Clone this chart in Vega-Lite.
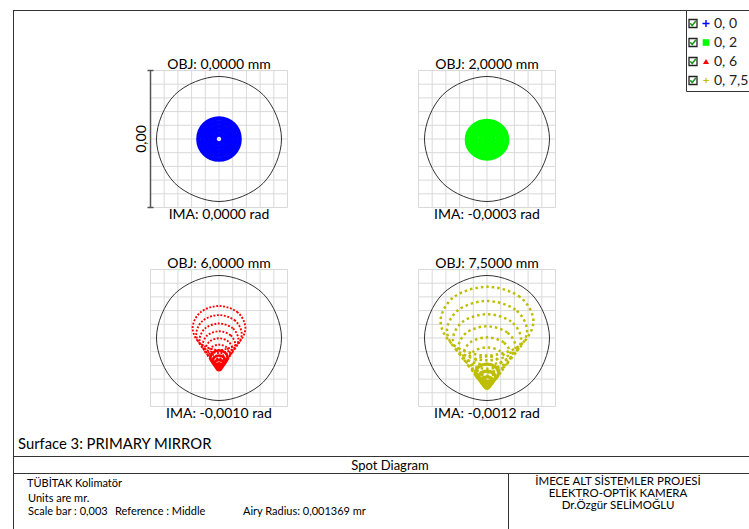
{
"$schema":"https://vega.github.io/schema/vega-lite/v6.json",
"width":749,"height":529,"padding":0,"autosize":{"type":"none"},
"background":"white",
"config":{"view":{"stroke":null}},
"resolve":{"scale":{"x":"independent","y":"independent"}},
"datasets":{
"grid":[{"v":-0.0015},{"v":-0.0012},{"v":-0.0009},{"v":-0.0006},{"v":-0.0003},{"v":0},{"v":0.0003},{"v":0.0006},{"v":0.0009},{"v":0.0012},{"v":0.0015}],
"airy":[{"i":0,"x":0.001369,"y":0},{"i":1,"x":0.000968,"y":0.000968},{"i":2,"x":0,"y":0.001369},{"i":3,"x":-0.000968,"y":0.000968},{"i":4,"x":-0.001369,"y":0},{"i":5,"x":-0.000968,"y":-0.000968},{"i":6,"x":0,"y":-0.001369},{"i":7,"x":0.000968,"y":-0.000968}],
"panels":[{"f":"0, 0","obj":"OBJ: 0,0000 mm","ima":"IMA: 0,0000 rad"},{"f":"0, 2","obj":"OBJ: 2,0000 mm","ima":"IMA: -0,0003 rad"},{"f":"0, 6","obj":"OBJ: 6,0000 mm","ima":"IMA: -0,0010 rad"},{"f":"0, 7,5","obj":"OBJ: 7,5000 mm","ima":"IMA: -0,0012 rad"}],
"spots":[
{"f":"0, 0","r":1,"i":0,"x":0.000099,"y":0},{"f":"0, 0","r":1,"i":1,"x":0.00007,"y":0.00007},{"f":"0, 0","r":1,"i":2,"x":0,"y":0.000099},{"f":"0, 0","r":1,"i":3,"x":-0.00007,"y":0.00007},{"f":"0, 0","r":1,"i":4,"x":-0.000099,"y":0},{"f":"0, 0","r":1,"i":5,"x":-0.00007,"y":-0.00007},{"f":"0, 0","r":1,"i":6,"x":0,"y":-0.000099},{"f":"0, 0","r":1,"i":7,"x":0.00007,"y":-0.00007},
{"f":"0, 0","r":2,"i":0,"x":0.000186,"y":0},{"f":"0, 0","r":2,"i":1,"x":0.000132,"y":0.000132},{"f":"0, 0","r":2,"i":2,"x":0,"y":0.000186},{"f":"0, 0","r":2,"i":3,"x":-0.000132,"y":0.000132},{"f":"0, 0","r":2,"i":4,"x":-0.000186,"y":0},{"f":"0, 0","r":2,"i":5,"x":-0.000132,"y":-0.000132},{"f":"0, 0","r":2,"i":6,"x":0,"y":-0.000186},{"f":"0, 0","r":2,"i":7,"x":0.000132,"y":-0.000132},
{"f":"0, 0","r":3,"i":0,"x":0.000274,"y":0},{"f":"0, 0","r":3,"i":1,"x":0.000194,"y":0.000194},{"f":"0, 0","r":3,"i":2,"x":0,"y":0.000274},{"f":"0, 0","r":3,"i":3,"x":-0.000194,"y":0.000194},{"f":"0, 0","r":3,"i":4,"x":-0.000274,"y":0},{"f":"0, 0","r":3,"i":5,"x":-0.000194,"y":-0.000194},{"f":"0, 0","r":3,"i":6,"x":0,"y":-0.000274},{"f":"0, 0","r":3,"i":7,"x":0.000194,"y":-0.000194},
{"f":"0, 0","r":4,"i":0,"x":0.000361,"y":0},{"f":"0, 0","r":4,"i":1,"x":0.000256,"y":0.000256},{"f":"0, 0","r":4,"i":2,"x":0,"y":0.000361},{"f":"0, 0","r":4,"i":3,"x":-0.000256,"y":0.000256},{"f":"0, 0","r":4,"i":4,"x":-0.000361,"y":0},{"f":"0, 0","r":4,"i":5,"x":-0.000256,"y":-0.000256},{"f":"0, 0","r":4,"i":6,"x":0,"y":-0.000361},{"f":"0, 0","r":4,"i":7,"x":0.000256,"y":-0.000256},
{"f":"0, 0","r":5,"i":0,"x":0.000449,"y":0},{"f":"0, 0","r":5,"i":1,"x":0.000318,"y":0.000318},{"f":"0, 0","r":5,"i":2,"x":0,"y":0.000449},{"f":"0, 0","r":5,"i":3,"x":-0.000318,"y":0.000318},{"f":"0, 0","r":5,"i":4,"x":-0.000449,"y":0},{"f":"0, 0","r":5,"i":5,"x":-0.000318,"y":-0.000318},{"f":"0, 0","r":5,"i":6,"x":0,"y":-0.000449},{"f":"0, 0","r":5,"i":7,"x":0.000318,"y":-0.000318},
{"f":"0, 2","r":1,"i":0,"x":0.000436,"y":-0.000015},{"f":"0, 2","r":1,"i":1,"x":0.000308,"y":0.000273},{"f":"0, 2","r":1,"i":2,"x":0,"y":0.000392},{"f":"0, 2","r":1,"i":3,"x":-0.000308,"y":0.000273},{"f":"0, 2","r":1,"i":4,"x":-0.000436,"y":-0.000015},{"f":"0, 2","r":1,"i":5,"x":-0.000308,"y":-0.000303},{"f":"0, 2","r":1,"i":6,"x":0,"y":-0.000422},{"f":"0, 2","r":1,"i":7,"x":0.000308,"y":-0.000303},
{"f":"0, 2","r":2,"i":0,"x":0.000339,"y":-0.000015},{"f":"0, 2","r":2,"i":1,"x":0.00024,"y":0.00021},{"f":"0, 2","r":2,"i":2,"x":0,"y":0.000303},{"f":"0, 2","r":2,"i":3,"x":-0.00024,"y":0.00021},{"f":"0, 2","r":2,"i":4,"x":-0.000339,"y":-0.000015},{"f":"0, 2","r":2,"i":5,"x":-0.00024,"y":-0.00024},{"f":"0, 2","r":2,"i":6,"x":0,"y":-0.000333},{"f":"0, 2","r":2,"i":7,"x":0.00024,"y":-0.00024},
{"f":"0, 2","r":3,"i":0,"x":0.000243,"y":-0.000015},{"f":"0, 2","r":3,"i":1,"x":0.000172,"y":0.000146},{"f":"0, 2","r":3,"i":2,"x":0,"y":0.000213},{"f":"0, 2","r":3,"i":3,"x":-0.000172,"y":0.000146},{"f":"0, 2","r":3,"i":4,"x":-0.000243,"y":-0.000015},{"f":"0, 2","r":3,"i":5,"x":-0.000172,"y":-0.000176},{"f":"0, 2","r":3,"i":6,"x":0,"y":-0.000243},{"f":"0, 2","r":3,"i":7,"x":0.000172,"y":-0.000176},
{"f":"0, 2","r":4,"i":0,"x":0.000147,"y":-0.000015},{"f":"0, 2","r":4,"i":1,"x":0.000104,"y":0.000083},{"f":"0, 2","r":4,"i":2,"x":0,"y":0.000123},{"f":"0, 2","r":4,"i":3,"x":-0.000104,"y":0.000083},{"f":"0, 2","r":4,"i":4,"x":-0.000147,"y":-0.000015},{"f":"0, 2","r":4,"i":5,"x":-0.000104,"y":-0.000113},{"f":"0, 2","r":4,"i":6,"x":0,"y":-0.000153},{"f":"0, 2","r":4,"i":7,"x":0.000104,"y":-0.000113},
{"f":"0, 2","r":5,"i":0,"x":0.00005,"y":-0.000015},{"f":"0, 2","r":5,"i":1,"x":0.000036,"y":0.000019},{"f":"0, 2","r":5,"i":2,"x":0,"y":0.000033},{"f":"0, 2","r":5,"i":3,"x":-0.000036,"y":0.000019},{"f":"0, 2","r":5,"i":4,"x":-0.00005,"y":-0.000015},{"f":"0, 2","r":5,"i":5,"x":-0.000036,"y":-0.000049},{"f":"0, 2","r":5,"i":6,"x":0,"y":-0.000063},{"f":"0, 2","r":5,"i":7,"x":0.000036,"y":-0.000049},
{"f":"0, 6","r":14,"i":0,"x":0.000578,"y":0.000219},{"f":"0, 6","r":14,"i":1,"x":0.000409,"y":0.00056},{"f":"0, 6","r":14,"i":2,"x":0,"y":0.000701},{"f":"0, 6","r":14,"i":3,"x":-0.000409,"y":0.00056},{"f":"0, 6","r":14,"i":4,"x":-0.000578,"y":0.000219},{"f":"0, 6","r":14,"i":5,"x":-0.000409,"y":-0.000122},{"f":"0, 6","r":14,"i":6,"x":0,"y":-0.000263},{"f":"0, 6","r":14,"i":7,"x":0.000409,"y":-0.000122},
{"f":"0, 6","r":13,"i":0,"x":0.000498,"y":0.000086},{"f":"0, 6","r":13,"i":1,"x":0.000353,"y":0.00038},{"f":"0, 6","r":13,"i":2,"x":0,"y":0.000502},{"f":"0, 6","r":13,"i":3,"x":-0.000353,"y":0.00038},{"f":"0, 6","r":13,"i":4,"x":-0.000498,"y":0.000086},{"f":"0, 6","r":13,"i":5,"x":-0.000353,"y":-0.000207},{"f":"0, 6","r":13,"i":6,"x":0,"y":-0.000329},{"f":"0, 6","r":13,"i":7,"x":0.000353,"y":-0.000207},
{"f":"0, 6","r":12,"i":0,"x":0.000425,"y":-0.000037},{"f":"0, 6","r":12,"i":1,"x":0.0003,"y":0.000214},{"f":"0, 6","r":12,"i":2,"x":0,"y":0.000317},{"f":"0, 6","r":12,"i":3,"x":-0.0003,"y":0.000214},{"f":"0, 6","r":12,"i":4,"x":-0.000425,"y":-0.000037},{"f":"0, 6","r":12,"i":5,"x":-0.0003,"y":-0.000287},{"f":"0, 6","r":12,"i":6,"x":0,"y":-0.000391},{"f":"0, 6","r":12,"i":7,"x":0.0003,"y":-0.000287},
{"f":"0, 6","r":11,"i":0,"x":0.000357,"y":-0.00015},{"f":"0, 6","r":11,"i":1,"x":0.000252,"y":0.00006},{"f":"0, 6","r":11,"i":2,"x":0,"y":0.000148},{"f":"0, 6","r":11,"i":3,"x":-0.000252,"y":0.00006},{"f":"0, 6","r":11,"i":4,"x":-0.000357,"y":-0.00015},{"f":"0, 6","r":11,"i":5,"x":-0.000252,"y":-0.00036},{"f":"0, 6","r":11,"i":6,"x":0,"y":-0.000447},{"f":"0, 6","r":11,"i":7,"x":0.000252,"y":-0.00036},
{"f":"0, 6","r":10,"i":0,"x":0.000295,"y":-0.000253},{"f":"0, 6","r":10,"i":1,"x":0.000208,"y":-0.000079},{"f":"0, 6","r":10,"i":2,"x":0,"y":-0.000007},{"f":"0, 6","r":10,"i":3,"x":-0.000208,"y":-0.000079},{"f":"0, 6","r":10,"i":4,"x":-0.000295,"y":-0.000253},{"f":"0, 6","r":10,"i":5,"x":-0.000208,"y":-0.000427},{"f":"0, 6","r":10,"i":6,"x":0,"y":-0.000499},{"f":"0, 6","r":10,"i":7,"x":0.000208,"y":-0.000427},
{"f":"0, 6","r":9,"i":0,"x":0.000239,"y":-0.000346},{"f":"0, 6","r":9,"i":1,"x":0.000169,"y":-0.000206},{"f":"0, 6","r":9,"i":2,"x":0,"y":-0.000147},{"f":"0, 6","r":9,"i":3,"x":-0.000169,"y":-0.000206},{"f":"0, 6","r":9,"i":4,"x":-0.000239,"y":-0.000346},{"f":"0, 6","r":9,"i":5,"x":-0.000169,"y":-0.000487},{"f":"0, 6","r":9,"i":6,"x":0,"y":-0.000546},{"f":"0, 6","r":9,"i":7,"x":0.000169,"y":-0.000487},
{"f":"0, 6","r":8,"i":0,"x":0.000189,"y":-0.00043},{"f":"0, 6","r":8,"i":1,"x":0.000133,"y":-0.000319},{"f":"0, 6","r":8,"i":2,"x":0,"y":-0.000273},{"f":"0, 6","r":8,"i":3,"x":-0.000133,"y":-0.000319},{"f":"0, 6","r":8,"i":4,"x":-0.000189,"y":-0.00043},{"f":"0, 6","r":8,"i":5,"x":-0.000133,"y":-0.000541},{"f":"0, 6","r":8,"i":6,"x":0,"y":-0.000587},{"f":"0, 6","r":8,"i":7,"x":0.000133,"y":-0.000541},
{"f":"0, 6","r":7,"i":0,"x":0.000145,"y":-0.000504},{"f":"0, 6","r":7,"i":1,"x":0.000102,"y":-0.000419},{"f":"0, 6","r":7,"i":2,"x":0,"y":-0.000383},{"f":"0, 6","r":7,"i":3,"x":-0.000102,"y":-0.000419},{"f":"0, 6","r":7,"i":4,"x":-0.000145,"y":-0.000504},{"f":"0, 6","r":7,"i":5,"x":-0.000102,"y":-0.000589},{"f":"0, 6","r":7,"i":6,"x":0,"y":-0.000624},{"f":"0, 6","r":7,"i":7,"x":0.000102,"y":-0.000589},
{"f":"0, 6","r":6,"i":0,"x":0.000106,"y":-0.000568},{"f":"0, 6","r":6,"i":1,"x":0.000075,"y":-0.000505},{"f":"0, 6","r":6,"i":2,"x":0,"y":-0.000479},{"f":"0, 6","r":6,"i":3,"x":-0.000075,"y":-0.000505},{"f":"0, 6","r":6,"i":4,"x":-0.000106,"y":-0.000568},{"f":"0, 6","r":6,"i":5,"x":-0.000075,"y":-0.00063},{"f":"0, 6","r":6,"i":6,"x":0,"y":-0.000656},{"f":"0, 6","r":6,"i":7,"x":0.000075,"y":-0.00063},
{"f":"0, 6","r":5,"i":0,"x":0.000074,"y":-0.000622},{"f":"0, 6","r":5,"i":1,"x":0.000052,"y":-0.000578},{"f":"0, 6","r":5,"i":2,"x":0,"y":-0.00056},{"f":"0, 6","r":5,"i":3,"x":-0.000052,"y":-0.000578},{"f":"0, 6","r":5,"i":4,"x":-0.000074,"y":-0.000622},{"f":"0, 6","r":5,"i":5,"x":-0.000052,"y":-0.000665},{"f":"0, 6","r":5,"i":6,"x":0,"y":-0.000683},{"f":"0, 6","r":5,"i":7,"x":0.000052,"y":-0.000665},
{"f":"0, 6","r":4,"i":0,"x":0.000047,"y":-0.000666},{"f":"0, 6","r":4,"i":1,"x":0.000034,"y":-0.000638},{"f":"0, 6","r":4,"i":2,"x":0,"y":-0.000626},{"f":"0, 6","r":4,"i":3,"x":-0.000034,"y":-0.000638},{"f":"0, 6","r":4,"i":4,"x":-0.000047,"y":-0.000666},{"f":"0, 6","r":4,"i":5,"x":-0.000034,"y":-0.000694},{"f":"0, 6","r":4,"i":6,"x":0,"y":-0.000705},{"f":"0, 6","r":4,"i":7,"x":0.000034,"y":-0.000694},
{"f":"0, 7,5","r":14,"i":0,"x":0.001017,"y":0.000368},{"f":"0, 7,5","r":14,"i":1,"x":0.000719,"y":0.000901},{"f":"0, 7,5","r":14,"i":2,"x":0,"y":0.001121},{"f":"0, 7,5","r":14,"i":3,"x":-0.000719,"y":0.000901},{"f":"0, 7,5","r":14,"i":4,"x":-0.001017,"y":0.000368},{"f":"0, 7,5","r":14,"i":5,"x":-0.000719,"y":-0.000165},{"f":"0, 7,5","r":14,"i":6,"x":0,"y":-0.000385},{"f":"0, 7,5","r":14,"i":7,"x":0.000719,"y":-0.000165},
{"f":"0, 7,5","r":13,"i":0,"x":0.000877,"y":0.00016},{"f":"0, 7,5","r":13,"i":1,"x":0.00062,"y":0.00062},{"f":"0, 7,5","r":13,"i":2,"x":0,"y":0.00081},{"f":"0, 7,5","r":13,"i":3,"x":-0.00062,"y":0.00062},{"f":"0, 7,5","r":13,"i":4,"x":-0.000877,"y":0.00016},{"f":"0, 7,5","r":13,"i":5,"x":-0.00062,"y":-0.000299},{"f":"0, 7,5","r":13,"i":6,"x":0,"y":-0.000489},{"f":"0, 7,5","r":13,"i":7,"x":0.00062,"y":-0.000299},
{"f":"0, 7,5","r":12,"i":0,"x":0.000747,"y":-0.000032},{"f":"0, 7,5","r":12,"i":1,"x":0.000528,"y":0.000359},{"f":"0, 7,5","r":12,"i":2,"x":0,"y":0.000521},{"f":"0, 7,5","r":12,"i":3,"x":-0.000528,"y":0.000359},{"f":"0, 7,5","r":12,"i":4,"x":-0.000747,"y":-0.000032},{"f":"0, 7,5","r":12,"i":5,"x":-0.000528,"y":-0.000423},{"f":"0, 7,5","r":12,"i":6,"x":0,"y":-0.000585},{"f":"0, 7,5","r":12,"i":7,"x":0.000528,"y":-0.000423},
{"f":"0, 7,5","r":11,"i":0,"x":0.000628,"y":-0.000208},{"f":"0, 7,5","r":11,"i":1,"x":0.000444,"y":0.00012},{"f":"0, 7,5","r":11,"i":2,"x":0,"y":0.000257},{"f":"0, 7,5","r":11,"i":3,"x":-0.000444,"y":0.00012},{"f":"0, 7,5","r":11,"i":4,"x":-0.000628,"y":-0.000208},{"f":"0, 7,5","r":11,"i":5,"x":-0.000444,"y":-0.000537},{"f":"0, 7,5","r":11,"i":6,"x":0,"y":-0.000674},{"f":"0, 7,5","r":11,"i":7,"x":0.000444,"y":-0.000537},
{"f":"0, 7,5","r":10,"i":0,"x":0.000519,"y":-0.00037},{"f":"0, 7,5","r":10,"i":1,"x":0.000367,"y":-0.000098},{"f":"0, 7,5","r":10,"i":2,"x":0,"y":0.000014},{"f":"0, 7,5","r":10,"i":3,"x":-0.000367,"y":-0.000098},{"f":"0, 7,5","r":10,"i":4,"x":-0.000519,"y":-0.00037},{"f":"0, 7,5","r":10,"i":5,"x":-0.000367,"y":-0.000642},{"f":"0, 7,5","r":10,"i":6,"x":0,"y":-0.000754},{"f":"0, 7,5","r":10,"i":7,"x":0.000367,"y":-0.000642},
{"f":"0, 7,5","r":9,"i":0,"x":0.00042,"y":-0.000516},{"f":"0, 7,5","r":9,"i":1,"x":0.000297,"y":-0.000296},{"f":"0, 7,5","r":9,"i":2,"x":0,"y":-0.000205},{"f":"0, 7,5","r":9,"i":3,"x":-0.000297,"y":-0.000296},{"f":"0, 7,5","r":9,"i":4,"x":-0.00042,"y":-0.000516},{"f":"0, 7,5","r":9,"i":5,"x":-0.000297,"y":-0.000736},{"f":"0, 7,5","r":9,"i":6,"x":0,"y":-0.000827},{"f":"0, 7,5","r":9,"i":7,"x":0.000297,"y":-0.000736},
{"f":"0, 7,5","r":8,"i":0,"x":0.000332,"y":-0.000647},{"f":"0, 7,5","r":8,"i":1,"x":0.000235,"y":-0.000473},{"f":"0, 7,5","r":8,"i":2,"x":0,"y":-0.000401},{"f":"0, 7,5","r":8,"i":3,"x":-0.000235,"y":-0.000473},{"f":"0, 7,5","r":8,"i":4,"x":-0.000332,"y":-0.000647},{"f":"0, 7,5","r":8,"i":5,"x":-0.000235,"y":-0.000821},{"f":"0, 7,5","r":8,"i":6,"x":0,"y":-0.000893},{"f":"0, 7,5","r":8,"i":7,"x":0.000235,"y":-0.000821},
{"f":"0, 7,5","r":7,"i":0,"x":0.000254,"y":-0.000762},{"f":"0, 7,5","r":7,"i":1,"x":0.00018,"y":-0.000629},{"f":"0, 7,5","r":7,"i":2,"x":0,"y":-0.000574},{"f":"0, 7,5","r":7,"i":3,"x":-0.00018,"y":-0.000629},{"f":"0, 7,5","r":7,"i":4,"x":-0.000254,"y":-0.000762},{"f":"0, 7,5","r":7,"i":5,"x":-0.00018,"y":-0.000895},{"f":"0, 7,5","r":7,"i":6,"x":0,"y":-0.00095},{"f":"0, 7,5","r":7,"i":7,"x":0.00018,"y":-0.000895},
{"f":"0, 7,5","r":6,"i":0,"x":0.000187,"y":-0.000862},{"f":"0, 7,5","r":6,"i":1,"x":0.000132,"y":-0.000764},{"f":"0, 7,5","r":6,"i":2,"x":0,"y":-0.000724},{"f":"0, 7,5","r":6,"i":3,"x":-0.000132,"y":-0.000764},{"f":"0, 7,5","r":6,"i":4,"x":-0.000187,"y":-0.000862},{"f":"0, 7,5","r":6,"i":5,"x":-0.000132,"y":-0.00096},{"f":"0, 7,5","r":6,"i":6,"x":0,"y":-0.001},{"f":"0, 7,5","r":6,"i":7,"x":0.000132,"y":-0.00096},
{"f":"0, 7,5","r":5,"i":0,"x":0.00013,"y":-0.000947},{"f":"0, 7,5","r":5,"i":1,"x":0.000092,"y":-0.000879},{"f":"0, 7,5","r":5,"i":2,"x":0,"y":-0.00085},{"f":"0, 7,5","r":5,"i":3,"x":-0.000092,"y":-0.000879},{"f":"0, 7,5","r":5,"i":4,"x":-0.00013,"y":-0.000947},{"f":"0, 7,5","r":5,"i":5,"x":-0.000092,"y":-0.001014},{"f":"0, 7,5","r":5,"i":6,"x":0,"y":-0.001043},{"f":"0, 7,5","r":5,"i":7,"x":0.000092,"y":-0.001014},
{"f":"0, 7,5","r":4,"i":0,"x":0.000083,"y":-0.001016},{"f":"0, 7,5","r":4,"i":1,"x":0.000059,"y":-0.000972},{"f":"0, 7,5","r":4,"i":2,"x":0,"y":-0.000954},{"f":"0, 7,5","r":4,"i":3,"x":-0.000059,"y":-0.000972},{"f":"0, 7,5","r":4,"i":4,"x":-0.000083,"y":-0.001016},{"f":"0, 7,5","r":4,"i":5,"x":-0.000059,"y":-0.001059},{"f":"0, 7,5","r":4,"i":6,"x":0,"y":-0.001077},{"f":"0, 7,5","r":4,"i":7,"x":0.000059,"y":-0.001059},
{"f":"0, 7,5","r":3,"i":0,"x":0.000047,"y":-0.00107},{"f":"0, 7,5","r":3,"i":1,"x":0.000033,"y":-0.001045},{"f":"0, 7,5","r":3,"i":2,"x":0,"y":-0.001035},{"f":"0, 7,5","r":3,"i":3,"x":-0.000033,"y":-0.001045},{"f":"0, 7,5","r":3,"i":4,"x":-0.000047,"y":-0.00107},{"f":"0, 7,5","r":3,"i":5,"x":-0.000033,"y":-0.001094},{"f":"0, 7,5","r":3,"i":6,"x":0,"y":-0.001104},{"f":"0, 7,5","r":3,"i":7,"x":0.000033,"y":-0.001094}
]},
"layer":[
{"data":{"values":[{}]},
 "layer":[
  {"mark":{"type":"rule","color":"#333","strokeWidth":1},"encoding":{"x":{"datum":13,"type":"quantitative","scale":{"domain":[0,749],"range":[0,749],"nice":false,"zero":false},"axis":null},"x2":{"datum":749},"y":{"datum":10.5,"type":"quantitative","scale":{"domain":[0,529],"range":[0,529],"nice":false,"zero":false},"axis":null}}},
  {"mark":{"type":"rule","color":"#333","strokeWidth":1},"encoding":{"x":{"datum":13.5,"type":"quantitative","scale":{"domain":[0,749],"range":[0,749],"nice":false,"zero":false},"axis":null},"y":{"datum":10,"type":"quantitative","scale":{"domain":[0,529],"range":[0,529],"nice":false,"zero":false},"axis":null},"y2":{"datum":529}}},
  {"mark":{"type":"rule","color":"#333","strokeWidth":1},"encoding":{"x":{"datum":13,"type":"quantitative","scale":{"domain":[0,749],"range":[0,749],"nice":false,"zero":false},"axis":null},"x2":{"datum":749},"y":{"datum":456.5,"type":"quantitative","scale":{"domain":[0,529],"range":[0,529],"nice":false,"zero":false},"axis":null}}},
  {"mark":{"type":"rule","color":"#333","strokeWidth":1},"encoding":{"x":{"datum":13,"type":"quantitative","scale":{"domain":[0,749],"range":[0,749],"nice":false,"zero":false},"axis":null},"x2":{"datum":749},"y":{"datum":473.5,"type":"quantitative","scale":{"domain":[0,529],"range":[0,529],"nice":false,"zero":false},"axis":null}}},
  {"mark":{"type":"rule","color":"#333","strokeWidth":1},"encoding":{"x":{"datum":508.5,"type":"quantitative","scale":{"domain":[0,749],"range":[0,749],"nice":false,"zero":false},"axis":null},"y":{"datum":473.5,"type":"quantitative","scale":{"domain":[0,529],"range":[0,529],"nice":false,"zero":false},"axis":null},"y2":{"datum":529}}},
  {"mark":{"type":"rect","fill":"white","stroke":"#333","strokeWidth":1},"encoding":{"x":{"datum":686.5,"type":"quantitative","scale":{"domain":[0,749],"range":[0,749],"nice":false,"zero":false},"axis":null},"x2":{"datum":760},"y":{"datum":10.5,"type":"quantitative","scale":{"domain":[0,529],"range":[0,529],"nice":false,"zero":false},"axis":null},"y2":{"datum":91.5}}},
  {"mark":{"type":"text","text":"Surface 3: PRIMARY MIRROR","font":"Lato","fontSize":14.8,"align":"left","baseline":"alphabetic","color":"#000"},"encoding":{"x":{"datum":18,"type":"quantitative","scale":{"domain":[0,749],"range":[0,749],"nice":false,"zero":false},"axis":null},"y":{"datum":449,"type":"quantitative","scale":{"domain":[0,529],"range":[0,529],"nice":false,"zero":false},"axis":null}}},
  {"mark":{"type":"text","text":"Spot Diagram","font":"Lato","fontSize":13,"align":"center","baseline":"alphabetic","color":"#000"},"encoding":{"x":{"datum":390,"type":"quantitative","scale":{"domain":[0,749],"range":[0,749],"nice":false,"zero":false},"axis":null},"y":{"datum":470,"type":"quantitative","scale":{"domain":[0,529],"range":[0,529],"nice":false,"zero":false},"axis":null}}},
  {"mark":{"type":"text","text":"TÜBİTAK Kolimatör","font":"Lato","fontSize":11,"align":"left","baseline":"alphabetic","color":"#000"},"encoding":{"x":{"datum":27,"type":"quantitative","scale":{"domain":[0,749],"range":[0,749],"nice":false,"zero":false},"axis":null},"y":{"datum":487,"type":"quantitative","scale":{"domain":[0,529],"range":[0,529],"nice":false,"zero":false},"axis":null}}},
  {"mark":{"type":"text","text":"Units are mr.","font":"Lato","fontSize":11,"align":"left","baseline":"alphabetic","color":"#000"},"encoding":{"x":{"datum":28,"type":"quantitative","scale":{"domain":[0,749],"range":[0,749],"nice":false,"zero":false},"axis":null},"y":{"datum":501.5,"type":"quantitative","scale":{"domain":[0,529],"range":[0,529],"nice":false,"zero":false},"axis":null}}},
  {"mark":{"type":"text","text":"Scale bar  : 0,003","font":"Lato","fontSize":11,"align":"left","baseline":"alphabetic","color":"#000"},"encoding":{"x":{"datum":28,"type":"quantitative","scale":{"domain":[0,749],"range":[0,749],"nice":false,"zero":false},"axis":null},"y":{"datum":515,"type":"quantitative","scale":{"domain":[0,529],"range":[0,529],"nice":false,"zero":false},"axis":null}}},
  {"mark":{"type":"text","text":"Reference  : Middle","font":"Lato","fontSize":11,"align":"left","baseline":"alphabetic","color":"#000"},"encoding":{"x":{"datum":115,"type":"quantitative","scale":{"domain":[0,749],"range":[0,749],"nice":false,"zero":false},"axis":null},"y":{"datum":515,"type":"quantitative","scale":{"domain":[0,529],"range":[0,529],"nice":false,"zero":false},"axis":null}}},
  {"mark":{"type":"text","text":"Airy Radius: 0,001369 mr","font":"Lato","fontSize":11,"align":"left","baseline":"alphabetic","color":"#000"},"encoding":{"x":{"datum":243,"type":"quantitative","scale":{"domain":[0,749],"range":[0,749],"nice":false,"zero":false},"axis":null},"y":{"datum":515,"type":"quantitative","scale":{"domain":[0,529],"range":[0,529],"nice":false,"zero":false},"axis":null}}},
  {"mark":{"type":"text","text":"İMECE ALT SİSTEMLER PROJESİ","font":"Lato","fontSize":11.5,"align":"center","baseline":"alphabetic","color":"#000"},"encoding":{"x":{"datum":618,"type":"quantitative","scale":{"domain":[0,749],"range":[0,749],"nice":false,"zero":false},"axis":null},"y":{"datum":485,"type":"quantitative","scale":{"domain":[0,529],"range":[0,529],"nice":false,"zero":false},"axis":null}}},
  {"mark":{"type":"text","text":"ELEKTRO-OPTİK KAMERA","font":"Lato","fontSize":11.5,"align":"center","baseline":"alphabetic","color":"#000"},"encoding":{"x":{"datum":618,"type":"quantitative","scale":{"domain":[0,749],"range":[0,749],"nice":false,"zero":false},"axis":null},"y":{"datum":497,"type":"quantitative","scale":{"domain":[0,529],"range":[0,529],"nice":false,"zero":false},"axis":null}}},
  {"mark":{"type":"text","text":"Dr.Özgür SELİMOĞLU","font":"Lato","fontSize":11.5,"align":"center","baseline":"alphabetic","color":"#000"},"encoding":{"x":{"datum":618,"type":"quantitative","scale":{"domain":[0,749],"range":[0,749],"nice":false,"zero":false},"axis":null},"y":{"datum":509,"type":"quantitative","scale":{"domain":[0,529],"range":[0,529],"nice":false,"zero":false},"axis":null}}}
 ]},
{"data":{"name":"panels"},
 "layer":[
  {"mark":{"type":"point","shape":"square","size":64,"filled":true,"fill":"white","stroke":"#222","strokeWidth":1.3,"opacity":1},"encoding":{"x":{"datum":693,"type":"quantitative","scale":{"domain":[0,749],"range":[0,749],"nice":false,"zero":false},"axis":null},"y":{"field":"f","type":"nominal","scale":{"type":"point","domain":["0, 0","0, 2","0, 6","0, 7,5"],"range":[23.5,80.5],"padding":0},"axis":null}}},
  {"mark":{"type":"point","shape":"M-0.7,-0.05L-0.2,0.5L0.75,-0.7","size":64,"filled":false,"stroke":"#1f9a1f","strokeWidth":1.6,"opacity":1},"encoding":{"x":{"datum":693,"type":"quantitative","scale":{"domain":[0,749],"range":[0,749],"nice":false,"zero":false},"axis":null},"y":{"field":"f","type":"nominal","scale":{"type":"point","domain":["0, 0","0, 2","0, 6","0, 7,5"],"range":[23.5,80.5],"padding":0},"axis":null}}},
  {"mark":{"type":"point","filled":true,"opacity":1,"strokeWidth":0},"encoding":{"x":{"datum":706,"type":"quantitative","scale":{"domain":[0,749],"range":[0,749],"nice":false,"zero":false},"axis":null},"y":{"field":"f","type":"nominal","scale":{"type":"point","domain":["0, 0","0, 2","0, 6","0, 7,5"],"range":[23.5,80.5],"padding":0},"axis":null},
    "shape":{"field":"f","type":"nominal","scale":{"domain":["0, 0","0, 2","0, 6","0, 7,5"],"range":["M-1,-0.2H-0.2V-1H0.2V-0.2H1V0.2H0.2V1H-0.2V0.2H-1Z","square","triangle-up","M-1,-0.2H-0.2V-1H0.2V-0.2H1V0.2H0.2V1H-0.2V0.2H-1Z"]},"legend":null},
    "color":{"field":"f","type":"nominal","scale":{"domain":["0, 0","0, 2","0, 6","0, 7,5"],"range":["#0000ff","#00ff00","#ff0000","#bebe00"]},"legend":null},
    "size":{"field":"f","type":"nominal","scale":{"domain":["0, 0","0, 2","0, 6","0, 7,5"],"range":[50,30,40,50]},"legend":null}}},
  {"mark":{"type":"text","font":"Lato","fontSize":14,"align":"left","baseline":"middle","color":"#222"},"encoding":{"x":{"datum":714,"type":"quantitative","scale":{"domain":[0,749],"range":[0,749],"nice":false,"zero":false},"axis":null},"y":{"field":"f","type":"nominal","scale":{"type":"point","domain":["0, 0","0, 2","0, 6","0, 7,5"],"range":[23.5,80.5],"padding":0},"axis":null},"text":{"field":"f"}}}
 ]},
{"layer":[
  {"data":{"name":"grid"},"mark":{"type":"rule","color":"#d9d9d9","strokeWidth":1},"encoding":{"x":{"field":"v","type":"quantitative","scale":{"domain":[-0.0015,0.0015],"range":[150.5,287.5],"nice":false,"zero":false},"axis":null},"y":{"datum":-0.0015,"type":"quantitative","scale":{"domain":[-0.0015,0.0015],"range":[207.5,70.5],"nice":false,"zero":false},"axis":null},"y2":{"datum":0.0015}}},
  {"data":{"name":"grid"},"mark":{"type":"rule","color":"#d9d9d9","strokeWidth":1},"encoding":{"y":{"field":"v","type":"quantitative","scale":{"domain":[-0.0015,0.0015],"range":[207.5,70.5],"nice":false,"zero":false},"axis":null},"x":{"datum":-0.0015,"type":"quantitative","scale":{"domain":[-0.0015,0.0015],"range":[150.5,287.5],"nice":false,"zero":false},"axis":null},"x2":{"datum":0.0015}}},
  {"data":{"name":"airy"},"mark":{"type":"line","interpolate":"cardinal-closed","color":"#333","strokeWidth":1},"encoding":{"x":{"field":"x","type":"quantitative","scale":{"domain":[-0.0015,0.0015],"range":[150.5,287.5],"nice":false,"zero":false},"axis":null},"y":{"field":"y","type":"quantitative","scale":{"domain":[-0.0015,0.0015],"range":[207.5,70.5],"nice":false,"zero":false},"axis":null},"order":{"field":"i","type":"quantitative"}}},
  {"data":{"name":"spots"},"transform":[{"filter":"datum.f === '0, 0'"}],"mark":{"type":"line","interpolate":"cardinal-closed","color":"#0000ff","strokeWidth":4.6},"encoding":{"x":{"field":"x","type":"quantitative","scale":{"domain":[-0.0015,0.0015],"range":[150.5,287.5],"nice":false,"zero":false},"axis":null},"y":{"field":"y","type":"quantitative","scale":{"domain":[-0.0015,0.0015],"range":[207.5,70.5],"nice":false,"zero":false},"axis":null},"detail":{"field":"r","type":"nominal"},"order":{"field":"i","type":"quantitative"}}},
  {"data":{"name":"panels"},"transform":[{"filter":"datum.f === '0, 0'"}],"mark":{"type":"text","font":"Lato","fontSize":14,"align":"center","baseline":"alphabetic","dy":-2,"color":"#000"},"encoding":{"x":{"datum":0,"type":"quantitative","scale":{"domain":[-0.0015,0.0015],"range":[150.5,287.5],"nice":false,"zero":false},"axis":null},"y":{"datum":0.0015,"type":"quantitative","scale":{"domain":[-0.0015,0.0015],"range":[207.5,70.5],"nice":false,"zero":false},"axis":null},"text":{"field":"obj"}}},
  {"data":{"name":"panels"},"transform":[{"filter":"datum.f === '0, 0'"}],"mark":{"type":"text","font":"Lato","fontSize":14,"align":"center","baseline":"alphabetic","dy":11.5,"color":"#000"},"encoding":{"x":{"datum":0,"type":"quantitative","scale":{"domain":[-0.0015,0.0015],"range":[150.5,287.5],"nice":false,"zero":false},"axis":null},"y":{"datum":-0.0015,"type":"quantitative","scale":{"domain":[-0.0015,0.0015],"range":[207.5,70.5],"nice":false,"zero":false},"axis":null},"text":{"field":"ima"}}},
  {"data":{"values":[{}]},"mark":{"type":"rule","color":"#555","strokeWidth":1.5},"encoding":{"x":{"datum":-0.0015,"type":"quantitative","scale":{"domain":[-0.0015,0.0015],"range":[150.5,287.5],"nice":false,"zero":false},"axis":null},"y":{"datum":-0.0015,"type":"quantitative","scale":{"domain":[-0.0015,0.0015],"range":[207.5,70.5],"nice":false,"zero":false},"axis":null},"y2":{"datum":0.0015}}},
  {"data":{"name":"grid"},"transform":[{"filter":"abs(datum.v) > 0.0014"}],"mark":{"type":"rule","color":"#555","strokeWidth":1.5},"encoding":{"y":{"field":"v","type":"quantitative","scale":{"domain":[-0.0015,0.0015],"range":[207.5,70.5],"nice":false,"zero":false},"axis":null},"x":{"datum":-0.001566,"type":"quantitative","scale":{"domain":[-0.0015,0.0015],"range":[150.5,287.5],"nice":false,"zero":false},"axis":null},"x2":{"datum":-0.001434}}},
  {"data":{"values":[{}]},"mark":{"type":"text","text":"0,00","font":"Lato","fontSize":14,"angle":270,"align":"center","baseline":"alphabetic","dy":-4.5,"color":"#000"},"encoding":{"x":{"datum":-0.0015,"type":"quantitative","scale":{"domain":[-0.0015,0.0015],"range":[150.5,287.5],"nice":false,"zero":false},"axis":null},"y":{"datum":0,"type":"quantitative","scale":{"domain":[-0.0015,0.0015],"range":[207.5,70.5],"nice":false,"zero":false},"axis":null}}}
 ]},
{"layer":[
  {"data":{"name":"grid"},"mark":{"type":"rule","color":"#d9d9d9","strokeWidth":1},"encoding":{"x":{"field":"v","type":"quantitative","scale":{"domain":[-0.0015,0.0015],"range":[418.5,555.5],"nice":false,"zero":false},"axis":null},"y":{"datum":-0.0015,"type":"quantitative","scale":{"domain":[-0.0015,0.0015],"range":[207.5,70.5],"nice":false,"zero":false},"axis":null},"y2":{"datum":0.0015}}},
  {"data":{"name":"grid"},"mark":{"type":"rule","color":"#d9d9d9","strokeWidth":1},"encoding":{"y":{"field":"v","type":"quantitative","scale":{"domain":[-0.0015,0.0015],"range":[207.5,70.5],"nice":false,"zero":false},"axis":null},"x":{"datum":-0.0015,"type":"quantitative","scale":{"domain":[-0.0015,0.0015],"range":[418.5,555.5],"nice":false,"zero":false},"axis":null},"x2":{"datum":0.0015}}},
  {"data":{"name":"airy"},"mark":{"type":"line","interpolate":"cardinal-closed","color":"#333","strokeWidth":1},"encoding":{"x":{"field":"x","type":"quantitative","scale":{"domain":[-0.0015,0.0015],"range":[418.5,555.5],"nice":false,"zero":false},"axis":null},"y":{"field":"y","type":"quantitative","scale":{"domain":[-0.0015,0.0015],"range":[207.5,70.5],"nice":false,"zero":false},"axis":null},"order":{"field":"i","type":"quantitative"}}},
  {"data":{"name":"spots"},"transform":[{"filter":"datum.f === '0, 2'"}],"mark":{"type":"line","interpolate":"cardinal-closed","color":"#00ff00","strokeWidth":4.8},"encoding":{"x":{"field":"x","type":"quantitative","scale":{"domain":[-0.0015,0.0015],"range":[418.5,555.5],"nice":false,"zero":false},"axis":null},"y":{"field":"y","type":"quantitative","scale":{"domain":[-0.0015,0.0015],"range":[207.5,70.5],"nice":false,"zero":false},"axis":null},"detail":{"field":"r","type":"nominal"},"order":{"field":"i","type":"quantitative"}}},
  {"data":{"name":"panels"},"transform":[{"filter":"datum.f === '0, 2'"}],"mark":{"type":"text","font":"Lato","fontSize":14,"align":"center","baseline":"alphabetic","dy":-2,"color":"#000"},"encoding":{"x":{"datum":0,"type":"quantitative","scale":{"domain":[-0.0015,0.0015],"range":[418.5,555.5],"nice":false,"zero":false},"axis":null},"y":{"datum":0.0015,"type":"quantitative","scale":{"domain":[-0.0015,0.0015],"range":[207.5,70.5],"nice":false,"zero":false},"axis":null},"text":{"field":"obj"}}},
  {"data":{"name":"panels"},"transform":[{"filter":"datum.f === '0, 2'"}],"mark":{"type":"text","font":"Lato","fontSize":14,"align":"center","baseline":"alphabetic","dy":11.5,"color":"#000"},"encoding":{"x":{"datum":0,"type":"quantitative","scale":{"domain":[-0.0015,0.0015],"range":[418.5,555.5],"nice":false,"zero":false},"axis":null},"y":{"datum":-0.0015,"type":"quantitative","scale":{"domain":[-0.0015,0.0015],"range":[207.5,70.5],"nice":false,"zero":false},"axis":null},"text":{"field":"ima"}}}
 ]},
{"layer":[
  {"data":{"name":"grid"},"mark":{"type":"rule","color":"#d9d9d9","strokeWidth":1},"encoding":{"x":{"field":"v","type":"quantitative","scale":{"domain":[-0.0015,0.0015],"range":[150.5,287.5],"nice":false,"zero":false},"axis":null},"y":{"datum":-0.0015,"type":"quantitative","scale":{"domain":[-0.0015,0.0015],"range":[406.5,269.5],"nice":false,"zero":false},"axis":null},"y2":{"datum":0.0015}}},
  {"data":{"name":"grid"},"mark":{"type":"rule","color":"#d9d9d9","strokeWidth":1},"encoding":{"y":{"field":"v","type":"quantitative","scale":{"domain":[-0.0015,0.0015],"range":[406.5,269.5],"nice":false,"zero":false},"axis":null},"x":{"datum":-0.0015,"type":"quantitative","scale":{"domain":[-0.0015,0.0015],"range":[150.5,287.5],"nice":false,"zero":false},"axis":null},"x2":{"datum":0.0015}}},
  {"data":{"name":"airy"},"mark":{"type":"line","interpolate":"cardinal-closed","color":"#333","strokeWidth":1},"encoding":{"x":{"field":"x","type":"quantitative","scale":{"domain":[-0.0015,0.0015],"range":[150.5,287.5],"nice":false,"zero":false},"axis":null},"y":{"field":"y","type":"quantitative","scale":{"domain":[-0.0015,0.0015],"range":[406.5,269.5],"nice":false,"zero":false},"axis":null},"order":{"field":"i","type":"quantitative"}}},
  {"data":{"name":"spots"},"transform":[{"filter":"datum.f === '0, 6' && datum.r >= 9"}],"mark":{"type":"line","interpolate":"cardinal-closed","color":"#ff0000","strokeWidth":1.9,"strokeDash":[1.9,1.6]},"encoding":{"x":{"field":"x","type":"quantitative","scale":{"domain":[-0.0015,0.0015],"range":[150.5,287.5],"nice":false,"zero":false},"axis":null},"y":{"field":"y","type":"quantitative","scale":{"domain":[-0.0015,0.0015],"range":[406.5,269.5],"nice":false,"zero":false},"axis":null},"detail":{"field":"r","type":"nominal"},"order":{"field":"i","type":"quantitative"}}},
  {"data":{"name":"spots"},"transform":[{"filter":"datum.f === '0, 6' && datum.r < 9"}],"mark":{"type":"line","interpolate":"cardinal-closed","color":"#ff0000","strokeWidth":2.6},"encoding":{"x":{"field":"x","type":"quantitative","scale":{"domain":[-0.0015,0.0015],"range":[150.5,287.5],"nice":false,"zero":false},"axis":null},"y":{"field":"y","type":"quantitative","scale":{"domain":[-0.0015,0.0015],"range":[406.5,269.5],"nice":false,"zero":false},"axis":null},"detail":{"field":"r","type":"nominal"},"order":{"field":"i","type":"quantitative"}}},
  {"data":{"name":"panels"},"transform":[{"filter":"datum.f === '0, 6'"}],"mark":{"type":"text","font":"Lato","fontSize":14,"align":"center","baseline":"alphabetic","dy":-2,"color":"#000"},"encoding":{"x":{"datum":0,"type":"quantitative","scale":{"domain":[-0.0015,0.0015],"range":[150.5,287.5],"nice":false,"zero":false},"axis":null},"y":{"datum":0.0015,"type":"quantitative","scale":{"domain":[-0.0015,0.0015],"range":[406.5,269.5],"nice":false,"zero":false},"axis":null},"text":{"field":"obj"}}},
  {"data":{"name":"panels"},"transform":[{"filter":"datum.f === '0, 6'"}],"mark":{"type":"text","font":"Lato","fontSize":14,"align":"center","baseline":"alphabetic","dy":11.5,"color":"#000"},"encoding":{"x":{"datum":0,"type":"quantitative","scale":{"domain":[-0.0015,0.0015],"range":[150.5,287.5],"nice":false,"zero":false},"axis":null},"y":{"datum":-0.0015,"type":"quantitative","scale":{"domain":[-0.0015,0.0015],"range":[406.5,269.5],"nice":false,"zero":false},"axis":null},"text":{"field":"ima"}}}
 ]},
{"layer":[
  {"data":{"name":"grid"},"mark":{"type":"rule","color":"#d9d9d9","strokeWidth":1},"encoding":{"x":{"field":"v","type":"quantitative","scale":{"domain":[-0.0015,0.0015],"range":[418.5,555.5],"nice":false,"zero":false},"axis":null},"y":{"datum":-0.0015,"type":"quantitative","scale":{"domain":[-0.0015,0.0015],"range":[406.5,269.5],"nice":false,"zero":false},"axis":null},"y2":{"datum":0.0015}}},
  {"data":{"name":"grid"},"mark":{"type":"rule","color":"#d9d9d9","strokeWidth":1},"encoding":{"y":{"field":"v","type":"quantitative","scale":{"domain":[-0.0015,0.0015],"range":[406.5,269.5],"nice":false,"zero":false},"axis":null},"x":{"datum":-0.0015,"type":"quantitative","scale":{"domain":[-0.0015,0.0015],"range":[418.5,555.5],"nice":false,"zero":false},"axis":null},"x2":{"datum":0.0015}}},
  {"data":{"name":"airy"},"mark":{"type":"line","interpolate":"cardinal-closed","color":"#333","strokeWidth":1},"encoding":{"x":{"field":"x","type":"quantitative","scale":{"domain":[-0.0015,0.0015],"range":[418.5,555.5],"nice":false,"zero":false},"axis":null},"y":{"field":"y","type":"quantitative","scale":{"domain":[-0.0015,0.0015],"range":[406.5,269.5],"nice":false,"zero":false},"axis":null},"order":{"field":"i","type":"quantitative"}}},
  {"data":{"name":"spots"},"transform":[{"filter":"datum.f === '0, 7,5' && datum.r >= 8"}],"mark":{"type":"line","interpolate":"cardinal-closed","color":"#bebe00","strokeWidth":2.5,"strokeDash":[2.5,3]},"encoding":{"x":{"field":"x","type":"quantitative","scale":{"domain":[-0.0015,0.0015],"range":[418.5,555.5],"nice":false,"zero":false},"axis":null},"y":{"field":"y","type":"quantitative","scale":{"domain":[-0.0015,0.0015],"range":[406.5,269.5],"nice":false,"zero":false},"axis":null},"detail":{"field":"r","type":"nominal"},"order":{"field":"i","type":"quantitative"}}},
  {"data":{"name":"spots"},"transform":[{"filter":"datum.f === '0, 7,5' && datum.r < 8"}],"mark":{"type":"line","interpolate":"cardinal-closed","color":"#bebe00","strokeWidth":3.2},"encoding":{"x":{"field":"x","type":"quantitative","scale":{"domain":[-0.0015,0.0015],"range":[418.5,555.5],"nice":false,"zero":false},"axis":null},"y":{"field":"y","type":"quantitative","scale":{"domain":[-0.0015,0.0015],"range":[406.5,269.5],"nice":false,"zero":false},"axis":null},"detail":{"field":"r","type":"nominal"},"order":{"field":"i","type":"quantitative"}}},
  {"data":{"name":"panels"},"transform":[{"filter":"datum.f === '0, 7,5'"}],"mark":{"type":"text","font":"Lato","fontSize":14,"align":"center","baseline":"alphabetic","dy":-2,"color":"#000"},"encoding":{"x":{"datum":0,"type":"quantitative","scale":{"domain":[-0.0015,0.0015],"range":[418.5,555.5],"nice":false,"zero":false},"axis":null},"y":{"datum":0.0015,"type":"quantitative","scale":{"domain":[-0.0015,0.0015],"range":[406.5,269.5],"nice":false,"zero":false},"axis":null},"text":{"field":"obj"}}},
  {"data":{"name":"panels"},"transform":[{"filter":"datum.f === '0, 7,5'"}],"mark":{"type":"text","font":"Lato","fontSize":14,"align":"center","baseline":"alphabetic","dy":11.5,"color":"#000"},"encoding":{"x":{"datum":0,"type":"quantitative","scale":{"domain":[-0.0015,0.0015],"range":[418.5,555.5],"nice":false,"zero":false},"axis":null},"y":{"datum":-0.0015,"type":"quantitative","scale":{"domain":[-0.0015,0.0015],"range":[406.5,269.5],"nice":false,"zero":false},"axis":null},"text":{"field":"ima"}}}
 ]}
]
}
